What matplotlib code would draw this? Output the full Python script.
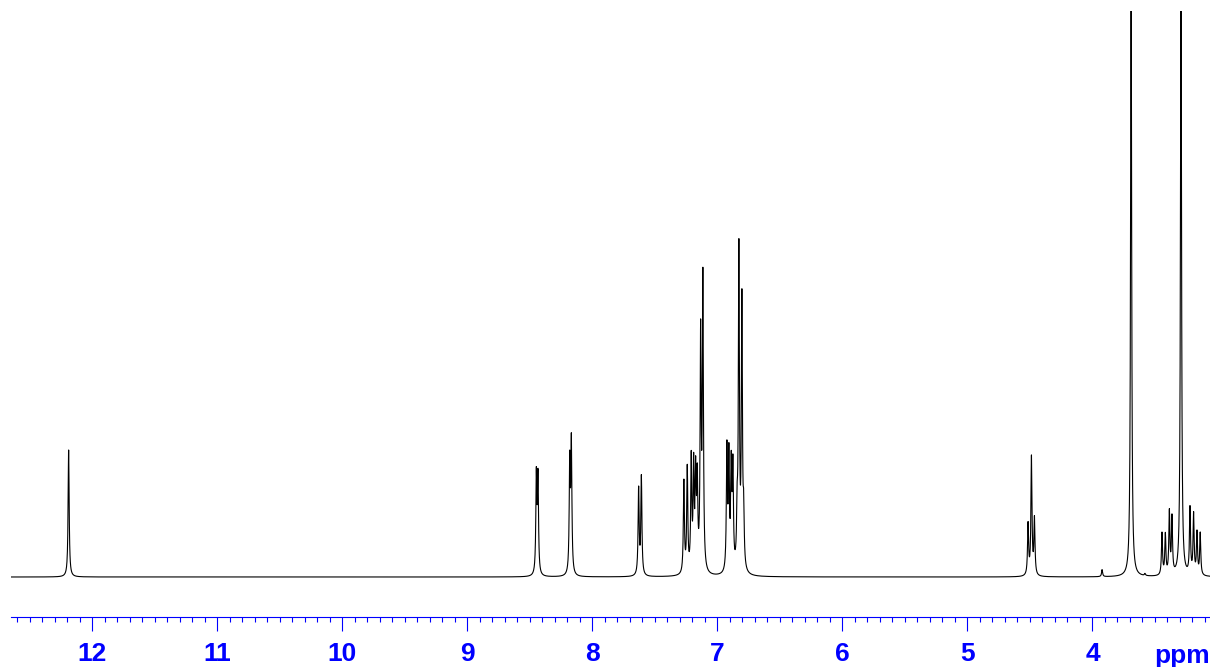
import matplotlib
matplotlib.use("Agg")
import matplotlib.pyplot as plt
import numpy as np
from matplotlib.ticker import MultipleLocator

# peak list: position (ppm) and height (px above baseline)
peak_ppm = [12.189,
            8.448, 8.435, 8.181, 8.168, 7.630, 7.608,
            7.268, 7.241, 7.209, 7.190, 7.174, 7.161, 7.134, 7.116,
            6.924, 6.908, 6.889, 6.876, 6.842, 6.828, 6.804, 6.790,
            4.515, 4.488, 4.464,
            3.923, 3.691, 3.580,
            3.444, 3.417, 3.385, 3.364, 3.292,
            3.220, 3.191, 3.164, 3.138]
peak_height = [127,
               98, 96, 110, 130, 86, 98,
               92, 104, 112, 102, 92, 86, 231, 290,
               122, 112, 100, 100, 50, 318, 267, 50,
               51, 118, 56,
               7, 620, 2,
               42, 40, 62, 56, 620,
               66, 60, 42, 42]
major_ticks = [12, 11, 10, 9, 8, 7, 6, 5, 4]
tick_labels = ["12", "11", "10", "9", "8", "7", "6", "5", "4"]

line_hw = 0.005  # lorentzian half width, ppm

ppm = np.arange(3.06, 12.65, 0.0005)
spec = np.zeros_like(ppm)
for p0, h in zip(peak_ppm, peak_height):
    spec += h / (1 + ((ppm - p0) / line_hw) ** 2)

fig = plt.figure(figsize=(12.1, 6.67), dpi=100)
ax = fig.add_axes([11 / 1210, 50 / 667, 1199 / 1210, 606 / 667])
ax.plot(ppm, spec, color="black", lw=0.8)
ax.set_xlim(12.65, 3.06)
ax.set_ylim(-40, 566)

for s in ["top", "left", "right"]:
    ax.spines[s].set_visible(False)
ax.spines["bottom"].set_color("#0000ff")
ax.spines["bottom"].set_linewidth(0.8)
ax.set_yticks([])

ax.set_xticks(major_ticks)
ax.set_xticklabels(tick_labels)
ax.xaxis.set_minor_locator(MultipleLocator(0.1))
ax.tick_params(axis="x", which="major", length=10, width=0.8, color="#0000ff",
               labelcolor="#0000ff", labelsize=19, pad=8)
ax.tick_params(axis="x", which="minor", length=3.6, width=0.8, color="#0000ff")
for lab in ax.get_xticklabels():
    lab.set_fontfamily("Liberation Sans")
    lab.set_fontweight("bold")

fig.text(1182 / 1210, 1 - 663 / 667, "ppm", color="#0000ff", fontsize=19,
         fontweight="bold", fontfamily="Liberation Sans", ha="center", va="baseline")

fig.savefig("out.png", dpi=100)
